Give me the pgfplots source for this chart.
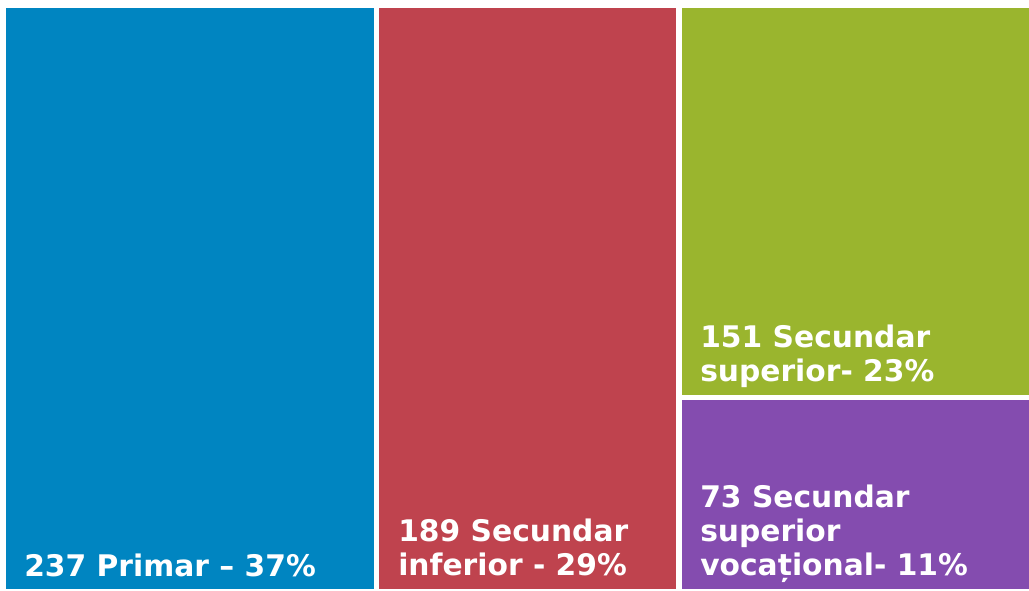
\documentclass[border=0pt]{standalone}
\usepackage{pgfplots}
\pgfplotsset{compat=1.18}
\usepackage{fontspec}
\setmainfont{DejaVu Sans}
\definecolor{cblue}{RGB}{0,133,193}
\definecolor{cred}{RGB}{191,67,78}
\definecolor{cgreen}{RGB}{154,181,46}
\definecolor{cpurple}{RGB}{132,76,175}
\begin{document}
\begin{tikzpicture}
\begin{axis}[width=771.75pt, height=442.5pt, scale only axis, hide axis,
  xmin=0, xmax=1029, ymin=0, ymax=590, y dir=reverse, clip=false]
% Treemap: 237 Primar, 189 Secundar inferior, 151 Secundar superior, 73 Secundar superior vocational
\addplot[fill=cblue, draw=none] coordinates {(6,8) (374,8) (374,589) (6,589)} --cycle;
\addplot[fill=cred, draw=none] coordinates {(379,8) (676,8) (676,589) (379,589)} --cycle;
\addplot[fill=cgreen, draw=none] coordinates {(682,8) (1029,8) (1029,395) (682,395)} --cycle;
\addplot[fill=cpurple, draw=none] coordinates {(682,400) (1029,400) (1029,589) (682,589)} --cycle;
\path (axis cs:0,0) (axis cs:1029,590);
\tikzset{lbl/.style={anchor=base west, inner sep=0pt, text=white, font=\fontsize{22.3pt}{26.25pt}\selectfont\bfseries}}
\node[lbl] at (axis cs:24,576) {237 Primar – 37\%};
\node[lbl] at (axis cs:398,541) {189 Secundar};
\node[lbl] at (axis cs:398,575) {inferior - 29\%};
\node[lbl] at (axis cs:700,347) {151 Secundar};
\node[lbl] at (axis cs:700,381) {superior- 23\%};
\node[lbl] at (axis cs:700,507) {73 Secundar};
\node[lbl] at (axis cs:700,541) {superior};
\node[lbl] at (axis cs:700,575) {vocațional- 11\%};
\end{axis}
\end{tikzpicture}
\end{document}
